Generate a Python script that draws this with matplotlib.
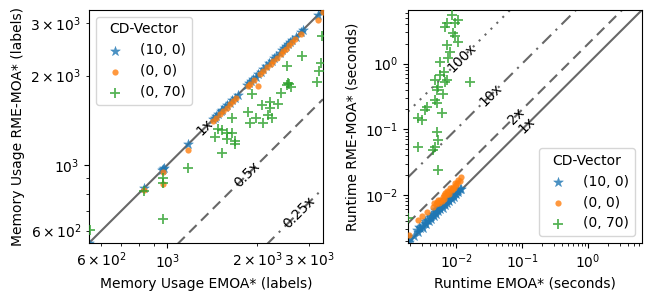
"""Memory usage and runtime of RME-MOA* vs EMOA*, one point per instance."""

import matplotlib

matplotlib.use("Agg")
import matplotlib.pyplot as plt

_BLUE = "#1f77b4"
_ORANGE = "#ff7f0e"
_GREEN = "#2ca02c"
_LINE = "#4d4d4d"

series_names = ["(10, 0)", "(0, 0)", "(0, 70)"]

# memory usage (labels)
mem_emoa_10_0 = [545, 834, 955, 966, 975, 1172, 1420, 1440, 1460, 1480, 1510, 1530,
                 1560, 1590, 1620, 1650, 1680, 1720, 1850, 1880, 1910, 1940, 1980,
                 2020, 2060, 2100, 2150, 2200, 2240, 2280, 2320, 2380, 2430, 2470,
                 2510, 2550, 2590, 2630, 2700, 2800, 2850, 3200, 3300, 3330]
mem_rme_10_0 = [546, 836, 958, 968, 978, 1175, 1424, 1443, 1464, 1483, 1514, 1533,
                1564, 1594, 1623, 1654, 1684, 1724, 1854, 1884, 1914, 1944, 1985,
                2025, 2065, 2105, 2156, 2206, 2245, 2286, 2326, 2386, 2436, 2476,
                2516, 2556, 2596, 2636, 2707, 2807, 2857, 3207, 3307, 3330]
mem_emoa_0_0 = [834, 966, 966, 1172, 1420, 1460, 1500, 1540, 1580, 1620, 1660, 1700,
                1860, 1900, 1960, 2017, 2050, 2100, 2160, 2220, 2270, 2330, 2400,
                2450, 2500, 2560, 2620, 2690, 2800, 3214, 3320]
mem_rme_0_0 = [825, 944, 864, 1120, 1402, 1442, 1481, 1520, 1560, 1600, 1640, 1680,
               1838, 1876, 1935, 1850, 2024, 2074, 2133, 2192, 2242, 2301, 2370,
               2420, 2469, 2528, 2587, 2656, 2765, 3076, 3280]
mem_emoa_0_70 = [549, 834, 966, 966, 966, 1172, 1450, 1480, 1530, 1530, 1580, 1580,
                 1645, 1645, 1680, 1680, 1860, 1890, 1920, 1980, 2080, 2100, 2180,
                 2210, 2210, 2250, 2350, 2404, 2518, 2518, 2536, 2570, 2610, 2825,
                 3170, 3240, 3270, 3300]
mem_rme_0_70 = [602, 815, 902, 870, 656, 975, 1245, 1325, 1307, 1100, 1285, 1220,
                1440, 1285, 1200, 1180, 1503, 1380, 1730, 1440, 1590, 1380, 1470,
                1630, 1550, 1440, 1600, 1742, 2163, 1860, 1888, 1873, 1830, 2323,
                1910, 2080, 2209, 2730]

# runtime (seconds)
rt_emoa_10_0 = [0.0019, 0.0020, 0.0023, 0.0025, 0.0026, 0.0028, 0.0030, 0.0031,
                0.0033, 0.0035, 0.0036, 0.0038, 0.0040, 0.0042, 0.0044, 0.0046,
                0.0048, 0.0050, 0.0051, 0.0053, 0.0055, 0.0057, 0.0060, 0.0062,
                0.0064, 0.0067, 0.0070, 0.0072, 0.0075, 0.0078, 0.0081, 0.0085,
                0.0088, 0.0092, 0.0096, 0.0100, 0.0104, 0.0108, 0.0113, 0.0118,
                0.0027, 0.0034, 0.0041, 0.0047, 0.0054, 0.0059, 0.0066, 0.0074,
                0.0083, 0.0090, 0.0098, 0.0106]
rt_rme_10_0 = [0.0019, 0.0022, 0.0024, 0.0029, 0.0027, 0.0031, 0.0034, 0.0031,
               0.0037, 0.0036, 0.0042, 0.0040, 0.0046, 0.0043, 0.0051, 0.0048,
               0.0058, 0.0052, 0.0061, 0.0056, 0.0066, 0.0060, 0.0071, 0.0064,
               0.0077, 0.0069, 0.0083, 0.0075, 0.0088, 0.0080, 0.0095, 0.0088,
               0.0100, 0.0094, 0.0108, 0.0103, 0.0114, 0.0110, 0.0122, 0.0125,
               0.0032, 0.0040, 0.0048, 0.0055, 0.0063, 0.0070, 0.0076, 0.0085,
               0.0097, 0.0104, 0.0113, 0.0120]
rt_emoa_0_0 = [0.0019, 0.0026, 0.0030, 0.0036, 0.0044, 0.0049, 0.0051, 0.0055,
               0.0057, 0.0060, 0.0063, 0.0065, 0.0068, 0.0070, 0.0075, 0.0078,
               0.0081, 0.0085, 0.0089, 0.0092, 0.0096, 0.0100, 0.0106, 0.0112,
               0.0118, 0.0046, 0.0053, 0.0066, 0.0073, 0.0087, 0.0102]
rt_rme_0_0 = [0.00245, 0.0042, 0.0047, 0.0055, 0.0065, 0.0072, 0.0078, 0.0074,
              0.0084, 0.0080, 0.0093, 0.0088, 0.0107, 0.0098, 0.0110, 0.0104,
              0.0128, 0.0118, 0.0132, 0.0126, 0.0152, 0.0140, 0.0169, 0.0160,
              0.0188, 0.0075, 0.0083, 0.0100, 0.0114, 0.0122, 0.0150]
rt_emoa_0_70 = [0.00185, 0.0026, 0.0026, 0.0030, 0.00335, 0.0036, 0.0044, 0.0047,
                0.0051, 0.0053, 0.0053, 0.0047, 0.0051, 0.0051, 0.0053, 0.0060,
                0.0047, 0.0057, 0.0064, 0.0068, 0.0072, 0.0075, 0.0072, 0.0068,
                0.0072, 0.0086, 0.0095, 0.0106, 0.0089, 0.0095, 0.0106, 0.0081,
                0.0162, 0.0062, 0.0056]
rt_rme_0_70 = [0.0044, 0.0537, 0.149, 0.139, 0.197, 0.219, 0.0484, 0.0537,
               0.091, 0.0687, 0.024, 0.28, 0.25, 0.40, 0.44, 0.177,
               0.565, 0.67, 0.75, 0.53, 0.565, 1.22, 1.93, 3.6,
               4.2, 5.5, 4.2, 4.6, 2.9, 2.6, 2.14, 1.5,
               0.53, 0.34, 1.05]

mem_lim = (545, 3330)
rt_lim = (0.00185, 6.56)


def draw(ax, xs, ys, lim, ratios, labels, label_x, styles):
    ax.set_xscale("log")
    ax.set_yscale("log")
    for r, lab, lx, ls in zip(ratios, labels, label_x, styles):
        ax.plot(lim, [lim[0] * r, lim[1] * r], color=_LINE, ls=ls, lw=1.5,
                alpha=0.85, zorder=1)
        ax.text(lx, lx * r, lab, rotation=45, rotation_mode="anchor",
                ha="center", va="center", fontsize=10, zorder=4)
    ax.scatter(xs[0], ys[0], marker="*", s=55, color=_BLUE, alpha=0.8,
               label=series_names[0], zorder=2, linewidths=0.3)
    ax.scatter(xs[1], ys[1], marker="o", s=20, color=_ORANGE, alpha=0.8,
               label=series_names[1], zorder=3, linewidths=0)
    ax.scatter(xs[2], ys[2], marker="+", s=45, color=_GREEN, alpha=0.8,
               label=series_names[2], zorder=3, linewidths=1.3)
    ax.set_xlim(lim)
    ax.set_ylim(lim)


fig = plt.figure(figsize=(6.51, 3.02), dpi=100)
ax1 = fig.add_axes([0.1367, 0.1954, 0.3594, 0.7715])
ax2 = fig.add_axes([0.6267, 0.1954, 0.3594, 0.7715])

draw(ax1, [mem_emoa_10_0, mem_emoa_0_0, mem_emoa_0_70],
     [mem_rme_10_0, mem_rme_0_0, mem_rme_0_70], mem_lim,
     [1.0, 0.5, 0.25], ["1x", "0.5x", "0.25x"], [1336, 1849, 2763],
     ["-", (0, (5, 3)), (0, (6, 3, 1, 3))])
ax1.set_xlabel("Memory Usage EMOA* (labels)")
ax1.set_ylabel("Memory Usage RME-MOA* (labels)")
ax1.legend(title="CD-Vector", loc="upper left")

draw(ax2, [rt_emoa_10_0, rt_emoa_0_0, rt_emoa_0_70],
     [rt_rme_10_0, rt_rme_0_0, rt_rme_0_70], rt_lim,
     [1.0, 2.0, 10.0, 100.0], ["1x", "2x", "10x", "100x"],
     [0.1175, 0.080, 0.0335, 0.0122],
     ["-", (0, (5, 3)), (0, (6, 3, 1, 3)), (0, (1, 3))])
ax2.set_xlabel("Runtime EMOA* (seconds)")
ax2.set_ylabel("Runtime RME-MOA* (seconds)")
ax2.legend(title="CD-Vector", loc="lower right")

fig.savefig("out.png", dpi=100)
plt.close(fig)
